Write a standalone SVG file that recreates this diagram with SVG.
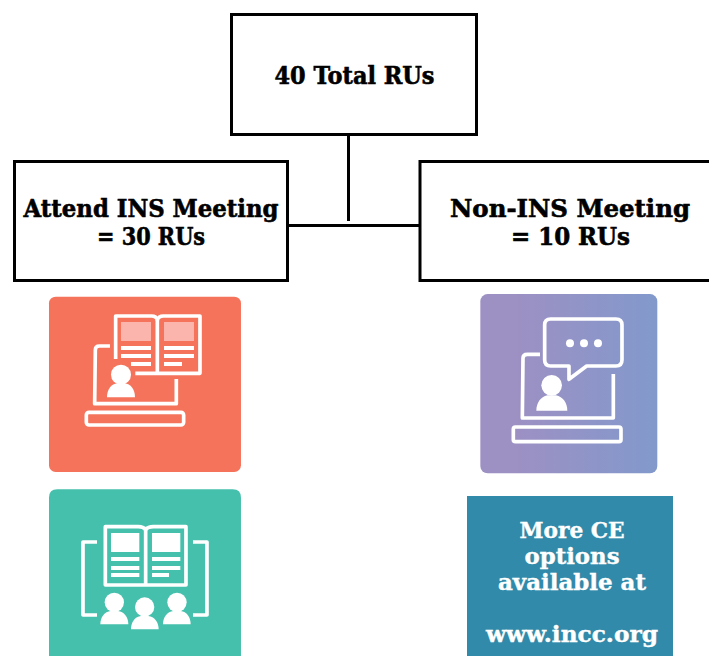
<svg xmlns="http://www.w3.org/2000/svg" width="709" height="656" viewBox="0 0 709 656">
  <style>
    .box { fill: #fff; stroke: #000; stroke-width: 3; }
    .conn { fill: none; stroke: #000; stroke-width: 3; }
    .t { font-family: "DejaVu Serif", "Liberation Serif", serif; font-weight: 700; font-size: 24px; fill: #000; stroke: #000; stroke-width: 0.6; text-anchor: middle; }
    .w { font-family: "DejaVu Serif", "Liberation Serif", serif; font-weight: 700; font-size: 22px; fill: #fff; stroke: #fff; stroke-width: 0.4; text-anchor: middle; }
    .ln { fill: none; stroke: #fff; stroke-width: 11; stroke-linejoin: round; }
    .fw { fill: #fff; }
    .fp { fill: #fcb5ac; }
  </style>
  <defs>
    <linearGradient id="pg" x1="0" y1="0" x2="1" y2="0">
      <stop offset="0.2" stop-color="#9d90c3"/>
      <stop offset="1" stop-color="#8299cc"/>
    </linearGradient>
  </defs>
  <rect width="709" height="656" fill="#fff"/>
  <g id="connectors">
    <path class="conn" d="M348.5 135V221"/>
    <path class="conn" d="M288 225.5H420"/>
  </g>
  <g id="node-total">
    <rect class="box" x="231.5" y="14.5" width="245" height="120"/>
    <text class="t" x="354.5" y="83.5" textLength="160" lengthAdjust="spacingAndGlyphs">40 Total RUs</text>
  </g>
  <g id="node-attend">
    <rect class="box" x="14.5" y="161.5" width="273" height="119"/>
    <text class="t" x="151" y="216.5" textLength="255" lengthAdjust="spacingAndGlyphs">Attend INS Meeting</text>
    <text class="t" x="151" y="245" textLength="108" lengthAdjust="spacingAndGlyphs">= 30 RUs</text>
  </g>
  <g id="node-non-ins">
    <rect class="box" x="420" y="161.5" width="302" height="119"/>
    <text class="t" x="570" y="216.5" textLength="240" lengthAdjust="spacingAndGlyphs">Non-INS Meeting</text>
    <text class="t" x="570.5" y="245" textLength="119" lengthAdjust="spacingAndGlyphs">= 10 RUs</text>
  </g>
  <g id="node-orange" transform="translate(40 290) scale(0.3333)">
    <rect x="27" y="20" width="576" height="526" rx="20" fill="#f5735b"/>
    <path class="ln" d="M227 207V78H335Q349 78 352 90Q356 78 370 78H480V250H286"/>
    <path class="ln" d="M352 90V250"/>
    <rect class="fp" x="243" y="96" width="90" height="57"/>
    <rect class="fp" x="372" y="96" width="90" height="57"/>
    <rect class="fw" x="243" y="168" width="90" height="12"/>
    <rect class="fw" x="243" y="192" width="90" height="12"/>
    <rect class="fw" x="273" y="216" width="60" height="12"/>
    <rect class="fw" x="372" y="168" width="90" height="12"/>
    <rect class="fw" x="372" y="192" width="90" height="12"/>
    <rect class="fw" x="372" y="216" width="54" height="12"/>
    <path class="ln" d="M210 168H178Q166 168 166 180L164 341H409V267"/>
    <rect class="ln" x="139" y="367" width="292" height="38" rx="8"/>
    <circle class="fw" cx="243" cy="254" r="30"/>
    <path class="fw" d="M201 322C201 298 214 282 232 280H254C272 282 285 298 285 322Z"/>
  </g>
  <g id="node-teal" transform="translate(40 485) scale(0.3333)">
    <path d="M27 513V38Q27 13 52 13H578Q603 13 603 38V513Z" fill="#45c0ac"/>
    <path class="ln" d="M196 300V125H295Q310 125 317 134Q324 125 340 125H438V300Z"/>
    <path class="ln" d="M317 134V300"/>
    <rect class="fw" x="213" y="144" width="85" height="57"/>
    <rect class="fw" x="336" y="144" width="85" height="57"/>
    <rect class="fw" x="213" y="216" width="85" height="12"/>
    <rect class="fw" x="213" y="243" width="85" height="12"/>
    <rect class="fw" x="213" y="264" width="85" height="12"/>
    <rect class="fw" x="336" y="216" width="85" height="12"/>
    <rect class="fw" x="336" y="243" width="85" height="12"/>
    <rect class="fw" x="336" y="264" width="51" height="12"/>
    <path class="ln" d="M171 171H129V390H171" stroke-linejoin="miter"/>
    <path class="ln" d="M459 171H501V390H459" stroke-linejoin="miter"/>
    <circle class="fw" cx="223" cy="352" r="29"/>
    <path class="fw" d="M181 418C181 396 194 380 212 378H234C252 380 265 396 265 418Z"/>
    <circle class="fw" cx="314" cy="366" r="29"/>
    <path class="fw" d="M273 433C273 411 285 395 303 393H325C343 395 356 411 356 433Z"/>
    <circle class="fw" cx="411" cy="352" r="29"/>
    <path class="fw" d="M369 418C369 396 382 380 400 378H422C440 380 452 396 452 418Z"/>
  </g>
  <g id="node-purple" transform="translate(470 285) scale(0.3333)">
    <rect x="31" y="27" width="531" height="538" rx="22" fill="url(#pg)"/>
    <path class="ln" d="M242 102H438Q456 102 456 120V225Q456 243 438 243H350L297 283V243H242Q224 243 224 225V120Q224 102 242 102Z"/>
    <circle class="fw" cx="300" cy="175" r="12"/>
    <circle class="fw" cx="342" cy="175" r="12"/>
    <circle class="fw" cx="384" cy="175" r="12"/>
    <path class="ln" d="M210 208H172Q159 208 159 220L157 399H430V267"/>
    <rect class="ln" x="130" y="426" width="323" height="44" rx="6"/>
    <circle class="fw" cx="245" cy="301" r="31"/>
    <path class="fw" d="M199 377C199 354 212 335 232 331H258C279 335 292 354 292 377Z"/>
  </g>
  <g id="node-more">
    <rect x="467" y="496" width="206" height="160" fill="#318aa9"/>
    <text class="w" x="572" y="537.5" textLength="105" lengthAdjust="spacingAndGlyphs">More CE</text>
    <text class="w" x="572" y="564" textLength="95" lengthAdjust="spacingAndGlyphs">options</text>
    <text class="w" x="572" y="590" textLength="148" lengthAdjust="spacingAndGlyphs">available at</text>
    <text class="w" x="572" y="641.5" textLength="172" lengthAdjust="spacingAndGlyphs">www.incc.org</text>
  </g>
</svg>
